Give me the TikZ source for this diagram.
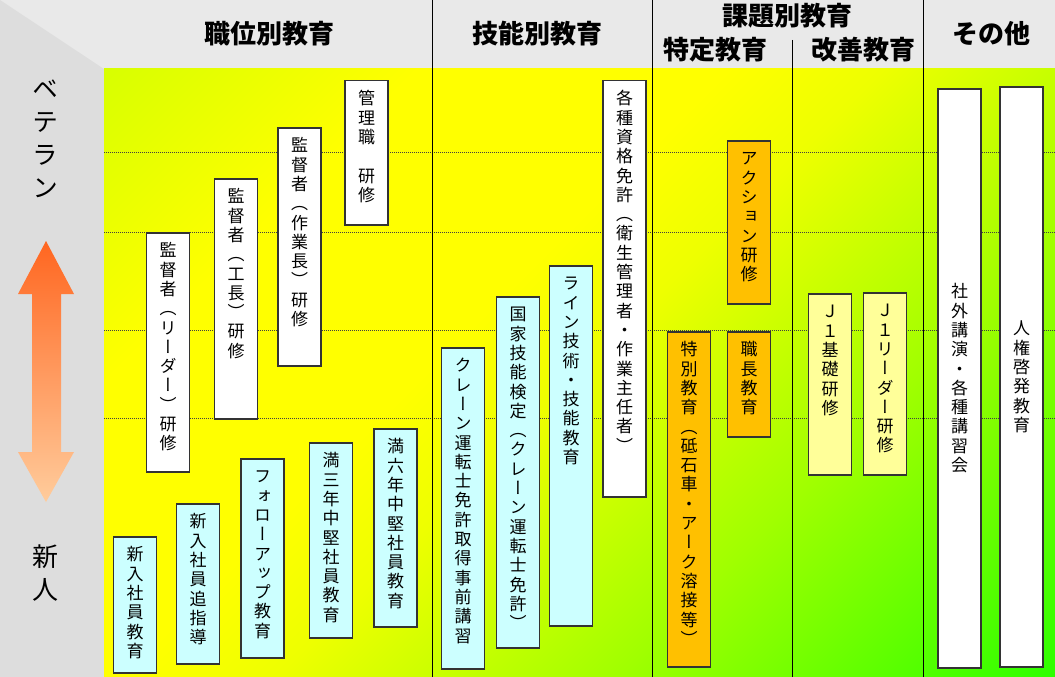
\documentclass[tikz,border=0pt]{standalone}
\usepackage{fontspec}
\usepackage{tikz}
\newfontfamily\jpfont{Noto Sans CJK JP}
\newfontfamily\jpvfont{Noto Sans CJK JP}[RawFeature=+vert]

\definecolor{hdgray}{HTML}{E9E9E9}
\definecolor{sidegray}{HTML}{DDDDDD}
\definecolor{paleblue}{HTML}{CCFFFF}
\definecolor{amber}{HTML}{FFC000}
\definecolor{paleyellow}{HTML}{FFFF99}
\definecolor{arrowtop}{HTML}{FF6620}
\definecolor{arrowbot}{HTML}{FFCC9C}
\definecolor{fieldA}{HTML}{D8FF00}
\definecolor{fieldB}{HTML}{FFFF00}
\definecolor{fieldC}{HTML}{EEFF00}
\definecolor{fieldD}{HTML}{A0FF00}
\definecolor{fieldE}{HTML}{2EFF00}
\pgfdeclarehorizontalshading{fieldshade}{100bp}{color(0bp)=(fieldA); color(14.6bp)=(fieldA);
  color(28.8bp)=(fieldB); color(42.9bp)=(fieldB); color(50bp)=(fieldC);
  color(65.6bp)=(fieldD); color(85.4bp)=(fieldE); color(100bp)=(fieldE)}

% one character per cell, stacked top to bottom
\newlength\vpitch
\setlength\vpitch{19.3pt}
\def\vchars#1{\ifx#1\relax\else
  \hbox to 1.25em{\hss\vbox to\vpitch{\vss\hbox{\vrule height.88em depth.12em width0pt#1}\vss}\hss}%
  \expandafter\vchars\fi}
\newcommand\vtxt[2]{\vbox to #1pt{\offinterlineskip\vchars#2\relax\vss}}
\newcommand\vmid[1]{\vbox{\offinterlineskip\vchars#1\relax}}

\begin{document}
\begin{tikzpicture}[
  x=1pt, y=-1pt,
  course/.style={draw=black!80, line width=1.5pt, minimum width=43pt, inner xsep=0pt,
    inner ysep=8pt, anchor=north, font=\jpvfont\fontsize{17}{19}\selectfont},
  newcomer/.style={course, fill=paleblue},
  senior/.style={course, fill=white},
  special/.style={course, fill=amber},
  kaizen/.style={course, fill=paleyellow},
  head/.style={font=\jpfont\bfseries\fontsize{26}{30}\selectfont, inner sep=0pt},
  side/.style={font=\jpvfont\fontsize{26}{30}\selectfont\setlength\vpitch{33pt}, inner sep=0pt},
  colline/.style={black, line width=1pt},
  level/.style={black!75, line width=1pt, dash pattern=on 1pt off 1pt}
]
  \useasboundingbox (0,0) rectangle (1055,677);
  \fill[hdgray] (0,0) rectangle (1055,677);
  \fill[sidegray] (0,0) -- (104,69) -- (104,677) -- (0,677) -- cycle;
  \shade[shading=fieldshade, shading angle=-45] (104,69) rectangle (1055,677);

  \foreach \y in {152,232,330,418} \draw[level] (104,\y) -- (1055,\y);
  \foreach \x in {432,652,923} \draw[colline] (\x,0) -- (\x,677);
  \draw[colline] (792,40) -- (792,677);

  % column heads
  \node[head] (shokui) at (269,34) {職位別教育};
  \node[head] (ginou) at (537,34) {技能別教育};
  \node[head] (kadai) at (787,16) {課題別教育};
  \node[head] (tokutei) at (715,50) {特定教育};
  \node[head] (kaizenh) at (863,50) {改善教育};
  \node[head] (sonota) at (991,34) {その他};

  % seniority axis
  \shade[top color=arrowtop, bottom color=arrowbot]
    (46,241) -- (74,294) -- (61,294) -- (61,452) -- (74,452) -- (46,502)
    -- (18,452) -- (32,452) -- (32,294) -- (18,294) -- cycle;
  \node[side] (veteran) at (45,138.5) {\vmid{ベテラン}};
  \node[side] (rookie) at (45,573.5) {\vmid{新人}};

  \node[newcomer] (shinnyu) at (135,536) {\vtxt{120}{新入社員教育}};
  \node[newcomer] (tsuishido) at (198,503) {\vtxt{144}{新入社員追指導}};
  \node[newcomer] (follow) at (262.5,458) {\vtxt{183}{フォローアップ教育}};
  \node[newcomer] (man3) at (331,442) {\vtxt{179}{満三年中堅社員教育}};
  \node[newcomer] (man6) at (395.5,428) {\vtxt{182}{満六年中堅社員教育}};
  \node[senior] (leader) at (168,232) {\vtxt{223}{監督者（リーダー）研修}};
  \node[senior] (kocho) at (236,178) {\vtxt{224}{監督者（工長）研修}};
  \node[senior] (sagyocho) at (299.5,127) {\vtxt{222}{監督者（作業長）研修}};
  \node[senior] (kanri) at (366.5,80) {\vtxt{128}{管理職　研修}};

  \node[newcomer] (crane) at (463,347) {\vtxt{305}{クレーン運転士免許取得事前講習}};
  \node[newcomer] (kentei) at (518,296) {\vtxt{335}{国家技能検定（クレーン運転士免許）}};
  \node[newcomer] (line) at (571,265) {\vtxt{344}{ライン技術・技能教育}};
  \node[senior] (shikaku) at (624.5,80) {\vtxt{400}{各種資格免許（衛生管理者・作業主任者）}};

  \node[special] (tokubetsu) at (689,331) {\vtxt{319}{特別教育（砥石車・アーク溶接等）}};
  \node[special] (action) at (749,140) {\vtxt{147}{アクション研修}};
  \node[special] (shokucho) at (749,331) {\vtxt{89}{職長教育}};
  \node[kaizen] (jbasic) at (830,293) {\vtxt{165}{Ｊ１基礎研修}};
  \node[kaizen] (jleader) at (885,292) {\vtxt{166}{Ｊ１リーダー研修}};

  \node[senior, minimum height=579pt] (shagai) at (959.5,88) {\vmid{社外講演・各種講習会}};
  \node[senior, minimum height=580pt] (jinken) at (1021.5,86) {\vmid{人権啓発教育}};
\end{tikzpicture}
\end{document}
